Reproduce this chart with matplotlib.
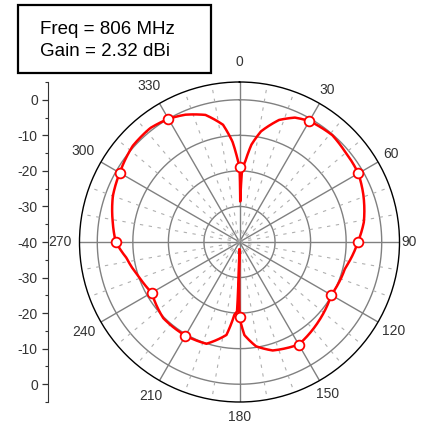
import numpy as np
import matplotlib
matplotlib.use('Agg')
import matplotlib.pyplot as plt
from matplotlib.patches import Rectangle

plt.rcParams['font.family'] = ['Liberation Sans', 'DejaVu Sans']

# radiation pattern (angle in degrees, gain in dB)
angles = [0, 1, 2, 4, 7, 11, 18, 24, 30, 41, 49, 60, 69, 81, 90, 104, 120, 135,
          150, 163, 171, 177, 180, 181, 182, 184, 188, 198, 210, 225, 240, 250,
          262, 270, 279, 290, 300, 312, 322, 330, 337, 345, 352, 356, 359, 360]
gain_db = [-18.8, -28.6, -19.5, -17.4, -12.4, -8.3, -3.9, -1.7, -0.7, -0.2, -0.9,
           -1.4, -2.7, -4.6, -6.7, -9.4, -10.2, -8.5, -6.7, -8.1, -10.3, -13.8,
           -18.8, -38.0, -20.5, -19.5, -13.6, -9.9, -9.6, -9.7, -11.5, -10.2,
           -7.9, -5.2, -3.9, -2.1, -1.1, 0.4, 0.7, 0.0, -1.1, -3.0, -6.7,
           -11.7, -17.4, -18.8]

angle_labels = ['0', '30', '60', '90', '120', '150', '180', '210', '240', '270', '300', '330']
ring_levels = [-30, -20, -10, 0]
r_min, r_max = -40, 5

freq_text = 'Freq = 806 MHz'
gain_text = 'Gain = 2.32 dBi'

W, H = 422, 434
R_PX = 160.0  # polar radius in pixels
# distance of each angle label centre from the pole, pixels
label_dist = [180, 176, 175, 170, 178, 176, 175, 178, 180, 180, 181, 180]

fig = plt.figure(figsize=(W / 100, H / 100), dpi=100)

ax = fig.add_axes([79.5 / W, 1 - 402 / H, 320 / W, 320 / H], projection='polar')
ax.set_theta_zero_location('N')
ax.set_theta_direction(-1)
ax.set_ylim(r_min, r_max)
ax.grid(False)
ax.set_xticks([])
ax.set_yticks([])
ax.spines['polar'].set_color('black')
ax.spines['polar'].set_linewidth(1.0)

# grid: rings, 30 deg spokes, dashed 10 deg spokes
tt = np.linspace(0, 2 * np.pi, 361)
for lev in ring_levels:
    ax.plot(tt, np.full_like(tt, lev), color='#808080', lw=1.0, zorder=1)
for a in range(0, 360, 10):
    th = np.deg2rad(a)
    if a % 30 == 0:
        ax.plot([th, th], [r_min, r_max], color='#808080', lw=1.0, zorder=1)
    else:
        ax.plot([th, th], [r_min, r_max], color='#b0b0b0', lw=0.8,
                dashes=(3, 5), zorder=1)

theta = np.deg2rad(angles)
line, = ax.plot(theta, gain_db, color='#ff0000', lw=1.8, zorder=3)
# let the polar transform draw each segment as a curve, not a chord
line.get_path()._interpolation_steps = 40

# open circle markers every 30 degrees
mk_a = [np.deg2rad(a) for a in angles if a % 30 == 0 and a < 360]
mk_g = [g for a, g in zip(angles, gain_db) if a % 30 == 0 and a < 360]
ax.plot(mk_a, mk_g, ls='none', marker='o', ms=7, mfc='white', mec='#ff0000',
        mew=1.3, zorder=4)

for i, lab in enumerate(angle_labels):
    r_lab = r_min + label_dist[i] / R_PX * (r_max - r_min)
    ax.text(np.deg2rad(i * 30), r_lab, lab, ha='center', va='center',
            fontsize=10, color='#333333', clip_on=False)

# linear radial scale on the left
ax2 = fig.add_axes([47.5 / W, 1 - 402 / H, 0.0001, 320 / H])
ax2.set_ylim(-45, 45)
ax2.set_xticks([])
for s in ['top', 'right', 'bottom']:
    ax2.spines[s].set_visible(False)
ax2.spines['left'].set_color('#333333')
ticks = np.arange(-40, 41, 10)
ax2.set_yticks(ticks)
ax2.set_yticklabels([str(r_min + abs(t)) for t in ticks])
ax2.set_yticks(np.arange(-45, 46, 5), minor=True)
ax2.tick_params(axis='y', which='major', length=4, width=0.9, pad=3,
                labelsize=10, colors='#333333')
ax2.tick_params(axis='y', which='minor', length=2, width=0.8, colors='#333333')

# info box
fig.patches.append(Rectangle((18 / W, 1 - 72.7 / H), 192.7 / W, 67.7 / H,
                             transform=fig.transFigure, fill=False,
                             edgecolor='black', lw=1.6))
fig.text(40 / W, 1 - 34.3 / H, freq_text, fontsize=13.5, va='baseline')
fig.text(40 / W, 1 - 56 / H, gain_text, fontsize=13.5, va='baseline')

fig.savefig('out.png', dpi=100, facecolor='white')
